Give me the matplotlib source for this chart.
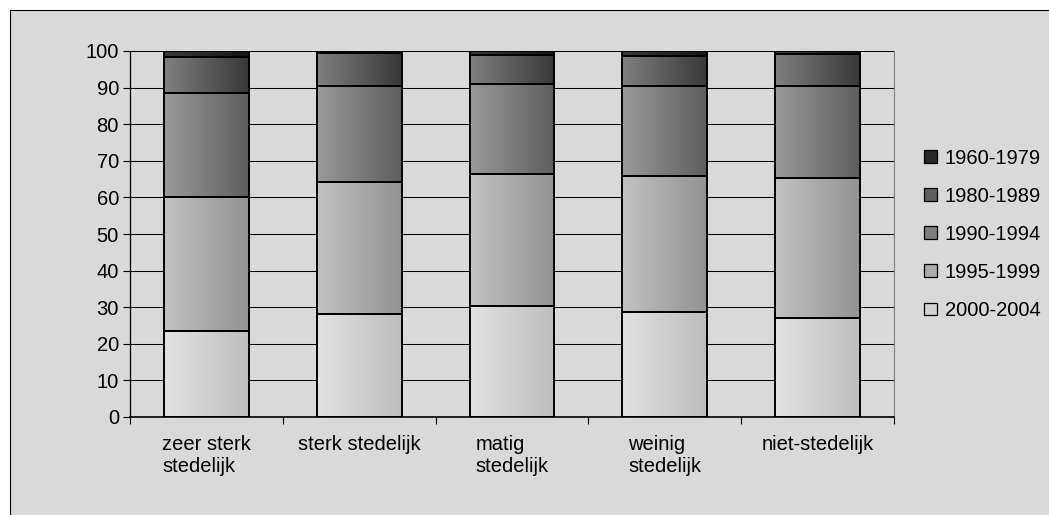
import numpy as np
import matplotlib
matplotlib.use('Agg')
import matplotlib.pyplot as plt
from matplotlib.colors import LinearSegmentedColormap
from matplotlib.patches import Rectangle, Patch

plt.rcParams['font.family'] = ['Liberation Sans', 'DejaVu Sans']

# data (percentages)
categories = ['zeer sterk\nstedelijk', 'sterk stedelijk', 'matig\nstedelijk',
              'weinig\nstedelijk', 'niet-stedelijk']
periods = ['2000-2004', '1995-1999', '1990-1994', '1980-1989', '1960-1979']
p2000 = [23.5, 28.2, 30.4, 28.7, 27.1]
p1995 = [36.6, 36.1, 36.0, 37.2, 38.2]
p1990 = [28.3, 26.2, 24.7, 24.6, 25.2]
p1980 = [9.9, 8.9, 7.7, 8.2, 8.7]
p1960 = [1.7, 0.6, 1.2, 1.3, 0.8]
series = [p2000, p1995, p1990, p1980, p1960]

# gradient (left -> right) per period
grads = [('#e2e2e2', '#bdbdbd'),
         ('#c2c2c2', '#929292'),
         ('#9a9a9a', '#5e5e5e'),
         ('#808080', '#383838'),
         ('#3a3a3a', '#141414')]
legend_cols = ['#d2d2d2', '#ababab', '#7e7e7e', '#5e5e5e', '#282828']

fs = 14.5
bg = '#d9d9d9'
fig = plt.figure(figsize=(10.49, 5.15), dpi=100)
fig.patch.set_facecolor('white')
# outer chart frame
fig.patches.append(Rectangle((10/1049, -0.1), 1.1, 1 - 10/515 + 0.1, transform=fig.transFigure,
                             facecolor=bg, edgecolor='black', lw=0.8, zorder=-10))

ax = fig.add_axes([130/1049, 1 - 417/515, (894-130)/1049, (417-51)/515])
ax.set_facecolor('none')

x = np.arange(len(categories))
width = 0.556
grad = np.linspace(0, 1, 256).reshape(1, -1)
bottom = np.zeros(len(categories))
for vals, (c0, c1), lab in zip(series, grads, periods):
    cmap = LinearSegmentedColormap.from_list(lab, [c0, c1])
    bars = ax.bar(x, vals, width, bottom=bottom, facecolor='none',
                  edgecolor='black', lw=1.4, zorder=3)
    for b in bars:
        x0, y0 = b.get_x(), b.get_y()
        im = ax.imshow(grad, cmap=cmap, aspect='auto', zorder=2,
                       extent=[x0, x0 + b.get_width(), y0, y0 + b.get_height()])
        im.set_clip_path(b)
    bottom += np.array(vals)

ax.set_xlim(-0.5, len(categories) - 0.5)
ax.set_ylim(0, 100)
ax.set_yticks(np.arange(0, 101, 10))
ax.yaxis.grid(True, color='black', lw=0.75, zorder=0)
ax.set_axisbelow(True)

ax.set_xticks(x)
ax.set_xticklabels(categories, fontsize=fs, ha='center', multialignment='left')
ax.set_xticks(np.arange(-0.5, len(categories)), minor=True)
ax.tick_params(axis='x', which='major', length=0, pad=13)
ax.tick_params(axis='x', which='minor', length=5, width=0.8, direction='out')
ax.tick_params(axis='y', length=5, width=0.8, direction='out', labelsize=fs, pad=3)

ax.spines['top'].set_visible(False)
ax.spines['right'].set_color('#808080')
ax.spines['left'].set_lw(0.9)
ax.spines['bottom'].set_lw(1.2)

# legend (top item is the latest stacked period)
handles = [Patch(facecolor=c, edgecolor='black', lw=0.9, label=lab)
           for c, lab in zip(legend_cols, periods)][::-1]
fig.legend(handles=handles, loc='center left', bbox_to_anchor=(0.864, 0.545),
           frameon=False, fontsize=fs, handlelength=0.6, handleheight=0.6,
           handletextpad=0.4, labelspacing=0.95)

fig.savefig('out.png', dpi=100, facecolor=fig.get_facecolor())
